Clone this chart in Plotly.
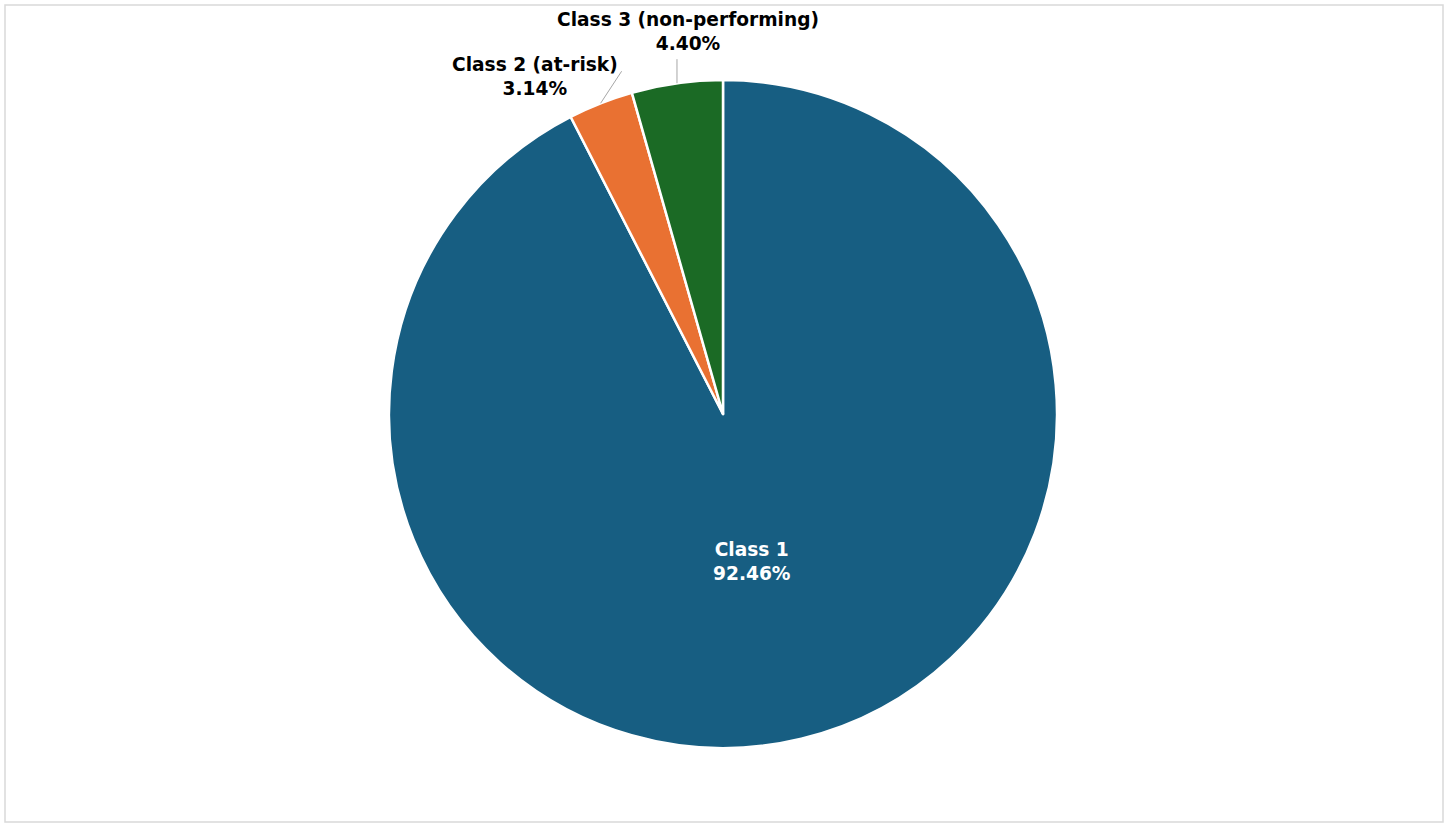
import math
import plotly.graph_objects as go

categories = ["Class 1", "Class 2 (at-risk)", "Class 3 (non-performing)"]
shares = [92.46, 3.14, 4.40]
colors = ["#175e82", "#e97132", "#1b6a25"]

W, H = 1449, 824
cx, cy, r = 723, 414, 334          # pie centre / radius in pixels
FONT = "Verdana, DejaVu Sans, sans-serif"
FS = 18.6

# label placement styles (pixel offsets relative to pie geometry)
label_style = [
    dict(inside=True, rfrac=0.455, text_dx=-7, text_dy=0, color="white"),
    dict(inside=False, text_dx=-66, text_dy=-27, line_to=(21, -32), color="black"),
    dict(inside=False, text_dx=11, text_dy=-52, line_to=(0, -24), color="black"),
]


def px(x):
    return x / W


def py(y):
    return 1 - y / H


fig = go.Figure(go.Pie(
    labels=categories,
    values=shares,
    sort=False,
    direction="clockwise",
    rotation=0,
    marker=dict(colors=colors, line=dict(color="white", width=2.5)),
    textinfo="none",
    showlegend=False,
    hoverinfo="label+percent",
    domain=dict(x=[px(cx - r), px(cx + r)], y=[py(cy + r), py(cy - r)]),
))

total = sum(shares)
annotations = []
shapes = [dict(type="rect", xref="paper", yref="paper",
               x0=px(5), x1=px(1443), y0=py(822), y1=py(5),
               line=dict(color="#d9d9d9", width=1.5))]

cum = 0.0
for cat, val, st in zip(categories, shares, label_style):
    mid = (cum + val / 2) / total * 2 * math.pi   # clockwise from 12 o'clock
    cum += val
    sx, sy = math.sin(mid), -math.cos(mid)
    text = f"<b>{cat}</b><br><b>{val:.2f}%</b>"
    if st["inside"]:
        tx = cx + sx * r * st["rfrac"] + st["text_dx"]
        ty = cy + sy * r * st["rfrac"] + st["text_dy"]
    else:
        ex, ey = cx + sx * r, cy + sy * r
        tx, ty = ex + st["text_dx"], ey + st["text_dy"]
        lx, ly = ex + st["line_to"][0], ey + st["line_to"][1]
        shapes.append(dict(type="line", xref="paper", yref="paper",
                           x0=px(ex), y0=py(ey), x1=px(lx), y1=py(ly),
                           line=dict(color="#a6a6a6", width=1)))
    annotations.append(dict(xref="paper", yref="paper", x=px(tx), y=py(ty),
                            text=text, showarrow=False, align="center",
                            xanchor="center", yanchor="middle",
                            font=dict(family=FONT, size=FS, color=st["color"])))

fig.update_layout(
    width=W, height=H,
    margin=dict(l=0, r=0, t=0, b=0),
    paper_bgcolor="white",
    shapes=shapes,
    annotations=annotations,
)

fig.write_html("out.html",
               config={"displayModeBar": False},
               post_script="document.body.style.margin='0';document.body.style.overflow='hidden';")
